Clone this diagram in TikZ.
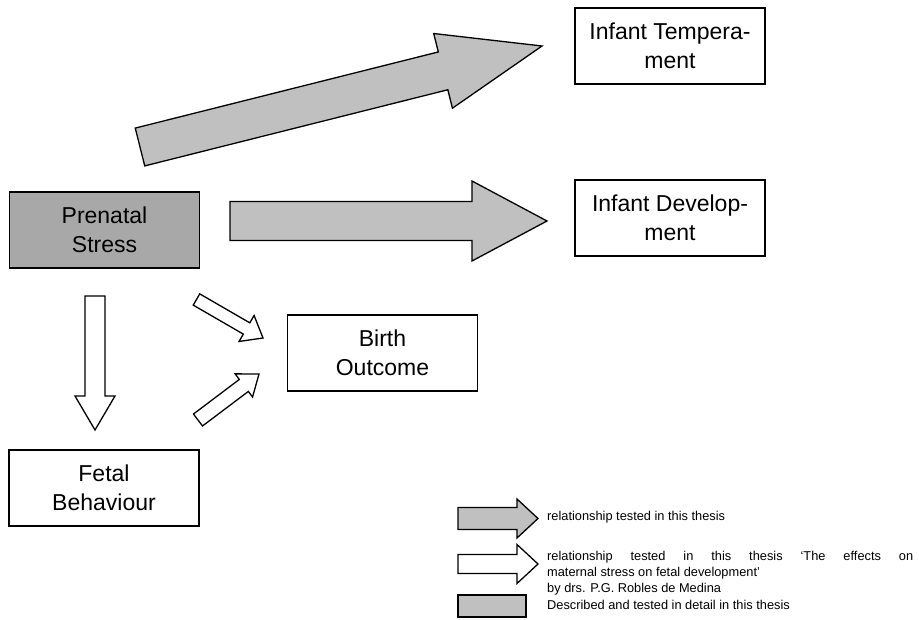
\documentclass[tikz,border=0pt]{standalone}
\usepackage{fontspec}
\setmainfont{Liberation Sans}
\usetikzlibrary{calc}

\definecolor{arrowgray}{RGB}{192,192,192}
\definecolor{boxgray}{RGB}{168,168,168}

% Block arrow from tail point #2 to tip #3:
% #1 style, #4 half shaft width, #5 half head width, #6 head length
\newcommand\blockarrow[6]{%
  \coordinate (hb) at ($(#3)!#6!(#2)$);
  \draw[#1] ($(#2)!#4!90:(#3)$) -- ($(hb)!#4!-90:(#2)$) -- ($(hb)!#5!-90:(#2)$)
    -- (#3) -- ($(hb)!#5!90:(#2)$) -- ($(hb)!#4!90:(#2)$) -- ($(#2)!#4!-90:(#3)$) -- cycle;
}

\begin{document}
\begin{tikzpicture}[x=1pt,y=-1pt,
  box/.style={draw=black, line width=1.4pt, fill=white, minimum width=190pt,
    minimum height=76pt, inner sep=0pt, align=center,
    font=\fontsize{23}{29}\selectfont},
  grayarrow/.style={draw=black, line width=1.3pt, fill=arrowgray, line join=miter},
  whitearrow/.style={draw=black, line width=1.3pt, fill=white, line join=miter},
  legendtext/.style={anchor=west, inner sep=0pt, align=left,
    font=\fontsize{12.8}{16}\selectfont}]

\useasboundingbox (0,0) rectangle (919,620);

% concept boxes
\node[box] (temp) at (670,46) {Infant Tempera-\\ment};
\node[box] (dev) at (670,218) {Infant Develop-\\ment};
\node[box, fill=boxgray] (stress) at (104.5,230) {Prenatal\\Stress};
\node[box] (birth) at (382.5,353) {Birth\\Outcome};
\node[box] (fetal) at (104,488) {Fetal\\Behaviour};

% arrow end points
\coordinate (tempS) at (140,147);  \coordinate (tempE) at (542,46);
\coordinate (devS) at (230,221);   \coordinate (devE) at (547,221);
\coordinate (fetS) at (95,296);    \coordinate (fetE) at (95,430);
\coordinate (birS) at (196.5,299.5); \coordinate (birE) at (263,338);
\coordinate (fbS) at (198,420);    \coordinate (fbE) at (259,374);

% relationships tested in this thesis
\blockarrow{grayarrow}{tempS}{tempE}{19.5pt}{38.5pt}{102pt}
\blockarrow{grayarrow}{devS}{devE}{19.5pt}{40pt}{75pt}

% relationships tested in the companion thesis
\blockarrow{whitearrow}{fetS}{fetE}{10pt}{20pt}{34pt}
\blockarrow{whitearrow}{birS}{birE}{6.5pt}{15pt}{19pt}
\blockarrow{whitearrow}{fbS}{fbE}{7.5pt}{14.5pt}{19pt}

% legend
\coordinate (k1S) at (458,518.5); \coordinate (k1E) at (538,518.5);
\coordinate (k2S) at (458,564);   \coordinate (k2E) at (538,564);
\blockarrow{grayarrow}{k1S}{k1E}{11pt}{19.5pt}{21pt}
\blockarrow{whitearrow}{k2S}{k2E}{9.5pt}{19.5pt}{21pt}
\draw[line width=1.3pt, fill=arrowgray] (458,595) rectangle (526,617);

\node[legendtext] (k1t) at (547,517) {relationship tested in this thesis};
\node[legendtext] (k2t) at (547,573) {\makebox[366pt][s]{relationship tested in this thesis ‘The effects on}\\maternal stress on fetal development’\\by drs. P.G. Robles de Medina};
\node[legendtext] (k3t) at (547,605) {Described and tested in detail in this thesis};

\end{tikzpicture}
\end{document}
